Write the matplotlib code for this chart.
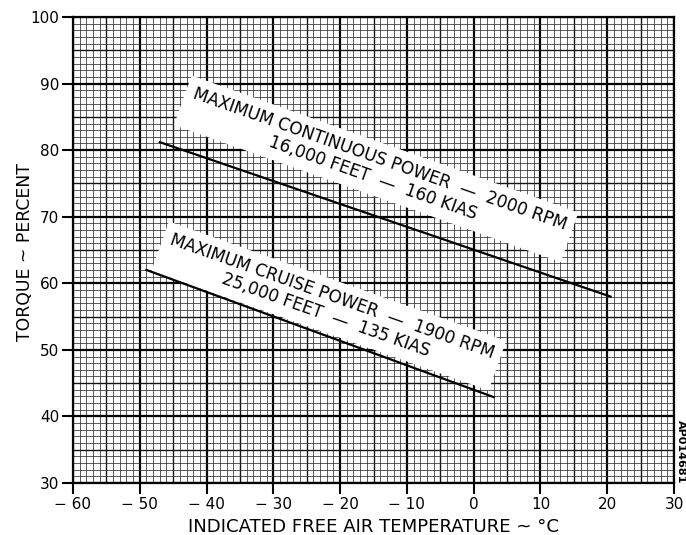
import matplotlib
matplotlib.use("Agg")
import matplotlib.pyplot as plt
import numpy as np

plt.rcParams['font.family'] = ['DejaVu Sans']

# Data
mcp_temp = [-47.0, 20.5]
mcp_torque = [81.2, 58.0]
mcr_temp = [-49.0, 3.0]
mcr_torque = [62.0, 42.9]

x_ticks = [-60, -50, -40, -30, -20, -10, 0, 10, 20, 30]
x_tick_labels = ["\u2212 60", "\u2212 50", "\u2212 40", "\u2212 30", "\u2212 20", "\u2212 10", "0", "10", "20", "30"]
y_ticks = [30, 40, 50, 60, 70, 80, 90, 100]
y_tick_labels = ["30", "40", "50", "60", "70", "80", "90", "100"]

mcp_label = "MAXIMUM CONTINUOUS POWER  \u2014  2000 RPM\n16,000 FEET  \u2014  160 KIAS"
mcr_label = "MAXIMUM CRUISE POWER  \u2014  1900 RPM\n25,000 FEET  \u2014  135 KIAS"

fig = plt.figure(figsize=(6.86, 5.35), dpi=100)
ax = fig.add_axes([73/686, 1-483/535, (674-73)/686, (483-17)/535])
ax.set_xlim(-60, 30)
ax.set_ylim(30, 100)

# grid
def style(v):
    if v % 10 == 0:
        return 1.6, 'black'
    elif v % 5 == 0:
        return 1.0, '#151515'
    return 0.55, '#303030'

for v in np.arange(-60, 31, 1):
    lw, c = style(v)
    ax.axvline(v, color=c, lw=lw, zorder=1)
for v in np.arange(30, 101, 1):
    lw, c = style(v)
    ax.axhline(v, color=c, lw=lw, zorder=1)

ax.plot(mcp_temp, mcp_torque, color='black', lw=1.6, zorder=4)
ax.plot(mcr_temp, mcr_torque, color='black', lw=1.6, zorder=4)

bbox = dict(boxstyle='square,pad=0.45', facecolor='white', edgecolor='none')
ax.text(-14.6, 77.2, mcp_label, rotation=-19.5, rotation_mode='anchor',
        ha='center', va='center', multialignment='center', fontsize=12.2,
        linespacing=1.1, bbox=bbox, zorder=3)
ax.text(-21.7, 56.6, mcr_label, rotation=-19.5, rotation_mode='anchor',
        ha='center', va='center', multialignment='center', fontsize=12.2,
        linespacing=1.1, bbox=bbox, zorder=3)

ax.set_xticks(x_ticks)
ax.set_xticklabels(x_tick_labels)
ax.set_yticks(y_ticks)
ax.set_yticklabels(y_tick_labels)
ax.tick_params(axis='both', direction='out', length=8, width=1.5, labelsize=11, pad=2)
for s in ax.spines.values():
    s.set_linewidth(1.6)

fig.text(373.5/686, 1-532/535, "INDICATED FREE AIR TEMPERATURE ~ \u00b0C",
         ha='center', va='baseline', fontsize=13.1)
fig.text(25/686, 1-252/535, "TORQUE ~ PERCENT", rotation=90,
         ha='center', va='center', fontsize=12.4)

fig.text(681/686, 1-452/535, "AP014681", rotation=270, ha='center', va='center',
         fontsize=8, fontweight='bold')

fig.savefig("out.png", dpi=100)
